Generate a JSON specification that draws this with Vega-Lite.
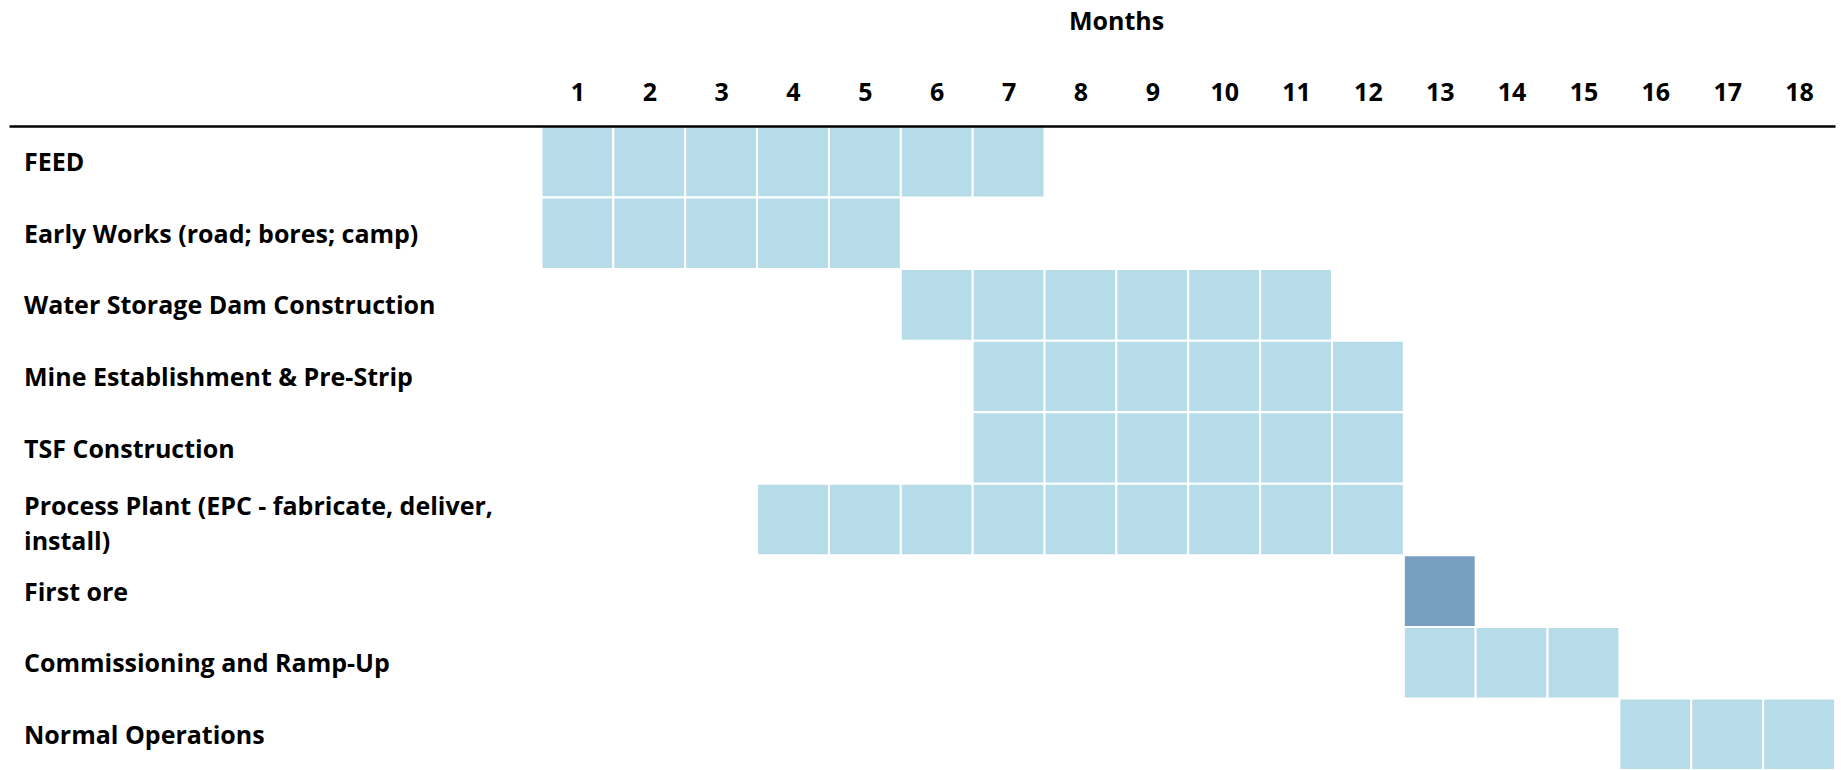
{
  "$schema": "https://vega.github.io/schema/vega-lite/v6.json",
  "width": 1826,
  "height": 644,
  "autosize": {"type": "none"},
  "padding": {"left": 9, "top": 126, "right": 6, "bottom": 0},
  "background": "white",
  "config": {"view": {"stroke": null}, "font": "Open Sans"},
  "data": {"values": [
    {"task": "FEED", "start": 0, "end": 1, "type": "Activity"},
    {"task": "FEED", "start": 1, "end": 2, "type": "Activity"},
    {"task": "FEED", "start": 2, "end": 3, "type": "Activity"},
    {"task": "FEED", "start": 3, "end": 4, "type": "Activity"},
    {"task": "FEED", "start": 4, "end": 5, "type": "Activity"},
    {"task": "FEED", "start": 5, "end": 6, "type": "Activity"},
    {"task": "FEED", "start": 6, "end": 7, "type": "Activity"},
    {"task": "Early Works (road; bores; camp)", "start": 0, "end": 1, "type": "Activity"},
    {"task": "Early Works (road; bores; camp)", "start": 1, "end": 2, "type": "Activity"},
    {"task": "Early Works (road; bores; camp)", "start": 2, "end": 3, "type": "Activity"},
    {"task": "Early Works (road; bores; camp)", "start": 3, "end": 4, "type": "Activity"},
    {"task": "Early Works (road; bores; camp)", "start": 4, "end": 5, "type": "Activity"},
    {"task": "Water Storage Dam Construction", "start": 5, "end": 6, "type": "Activity"},
    {"task": "Water Storage Dam Construction", "start": 6, "end": 7, "type": "Activity"},
    {"task": "Water Storage Dam Construction", "start": 7, "end": 8, "type": "Activity"},
    {"task": "Water Storage Dam Construction", "start": 8, "end": 9, "type": "Activity"},
    {"task": "Water Storage Dam Construction", "start": 9, "end": 10, "type": "Activity"},
    {"task": "Water Storage Dam Construction", "start": 10, "end": 11, "type": "Activity"},
    {"task": "Mine Establishment & Pre-Strip", "start": 6, "end": 7, "type": "Activity"},
    {"task": "Mine Establishment & Pre-Strip", "start": 7, "end": 8, "type": "Activity"},
    {"task": "Mine Establishment & Pre-Strip", "start": 8, "end": 9, "type": "Activity"},
    {"task": "Mine Establishment & Pre-Strip", "start": 9, "end": 10, "type": "Activity"},
    {"task": "Mine Establishment & Pre-Strip", "start": 10, "end": 11, "type": "Activity"},
    {"task": "Mine Establishment & Pre-Strip", "start": 11, "end": 12, "type": "Activity"},
    {"task": "TSF Construction", "start": 6, "end": 7, "type": "Activity"},
    {"task": "TSF Construction", "start": 7, "end": 8, "type": "Activity"},
    {"task": "TSF Construction", "start": 8, "end": 9, "type": "Activity"},
    {"task": "TSF Construction", "start": 9, "end": 10, "type": "Activity"},
    {"task": "TSF Construction", "start": 10, "end": 11, "type": "Activity"},
    {"task": "TSF Construction", "start": 11, "end": 12, "type": "Activity"},
    {"task": "Process Plant (EPC - fabricate, deliver, install)", "start": 3, "end": 4, "type": "Activity"},
    {"task": "Process Plant (EPC - fabricate, deliver, install)", "start": 4, "end": 5, "type": "Activity"},
    {"task": "Process Plant (EPC - fabricate, deliver, install)", "start": 5, "end": 6, "type": "Activity"},
    {"task": "Process Plant (EPC - fabricate, deliver, install)", "start": 6, "end": 7, "type": "Activity"},
    {"task": "Process Plant (EPC - fabricate, deliver, install)", "start": 7, "end": 8, "type": "Activity"},
    {"task": "Process Plant (EPC - fabricate, deliver, install)", "start": 8, "end": 9, "type": "Activity"},
    {"task": "Process Plant (EPC - fabricate, deliver, install)", "start": 9, "end": 10, "type": "Activity"},
    {"task": "Process Plant (EPC - fabricate, deliver, install)", "start": 10, "end": 11, "type": "Activity"},
    {"task": "Process Plant (EPC - fabricate, deliver, install)", "start": 11, "end": 12, "type": "Activity"},
    {"task": "First ore", "start": 12, "end": 13, "type": "Milestone"},
    {"task": "Commissioning and Ramp-Up", "start": 12, "end": 13, "type": "Activity"},
    {"task": "Commissioning and Ramp-Up", "start": 13, "end": 14, "type": "Activity"},
    {"task": "Commissioning and Ramp-Up", "start": 14, "end": 15, "type": "Activity"},
    {"task": "Normal Operations", "start": 15, "end": 16, "type": "Activity"},
    {"task": "Normal Operations", "start": 16, "end": 17, "type": "Activity"},
    {"task": "Normal Operations", "start": 17, "end": 18, "type": "Activity"}
  ]},
  "mark": {"type": "rect", "stroke": "white", "strokeWidth": 2},
  "encoding": {
    "x": {
      "field": "start", "type": "quantitative",
      "scale": {"domain": [-7.41, 18], "nice": false, "zero": false},
      "axis": {
        "orient": "top",
        "zindex": 1,
        "title": "Months",
        "titleFont": "Open Sans", "titleFontSize": 25, "titleFontWeight": "bold", "titleColor": "black",
        "titleX": 1107, "titleY": -105, "titleAlign": "center", "titleBaseline": "middle", "titleAnchor": null,
        "values": [0.5, 1.5, 2.5, 3.5, 4.5, 5.5, 6.5, 7.5, 8.5, 9.5, 10.5, 11.5, 12.5, 13.5, 14.5, 15.5, 16.5, 17.5],
        "labelExpr": "format(datum.value + 0.5, 'd')",
        "labelFont": "Open Sans", "labelFontSize": 25, "labelFontWeight": "bold", "labelColor": "black",
        "labelBaseline": "middle", "labelPadding": 34, "labelFlush": false, "labelOverlap": false,
        "ticks": false, "grid": false,
        "domain": true, "domainColor": "black", "domainWidth": 2.5
      }
    },
    "x2": {"field": "end"},
    "y": {
      "field": "task", "type": "nominal",
      "sort": ["FEED", "Early Works (road; bores; camp)", "Water Storage Dam Construction", "Mine Establishment & Pre-Strip", "TSF Construction", "Process Plant (EPC - fabricate, deliver, install)", "First ore", "Commissioning and Ramp-Up", "Normal Operations"],
      "scale": {"paddingInner": 0, "paddingOuter": 0},
      "axis": {
        "title": null, "orient": "left", "domain": false, "ticks": false, "grid": false,
        "labelAlign": "left", "labelPadding": -14.5, "labelBaseline": "middle", "labelLimit": 0,
        "labelFont": "Open Sans", "labelFontSize": 25, "labelFontWeight": "bold", "labelColor": "black",
        "labelLineHeight": 35,
        "labelOffset": {"condition": {"test": "datum.value == 'Process Plant (EPC - fabricate, deliver, install)'", "value": -13}, "value": 1.5},
        "labelExpr": "datum.label == 'Process Plant (EPC - fabricate, deliver, install)' ? ['Process Plant (EPC - fabricate, deliver,', 'install)'] : datum.label"
      }
    },
    "color": {
      "field": "type", "type": "nominal",
      "scale": {"domain": ["Activity", "Milestone"], "range": ["#b7dce9", "#789fbf"]},
      "legend": null
    }
  }
}
